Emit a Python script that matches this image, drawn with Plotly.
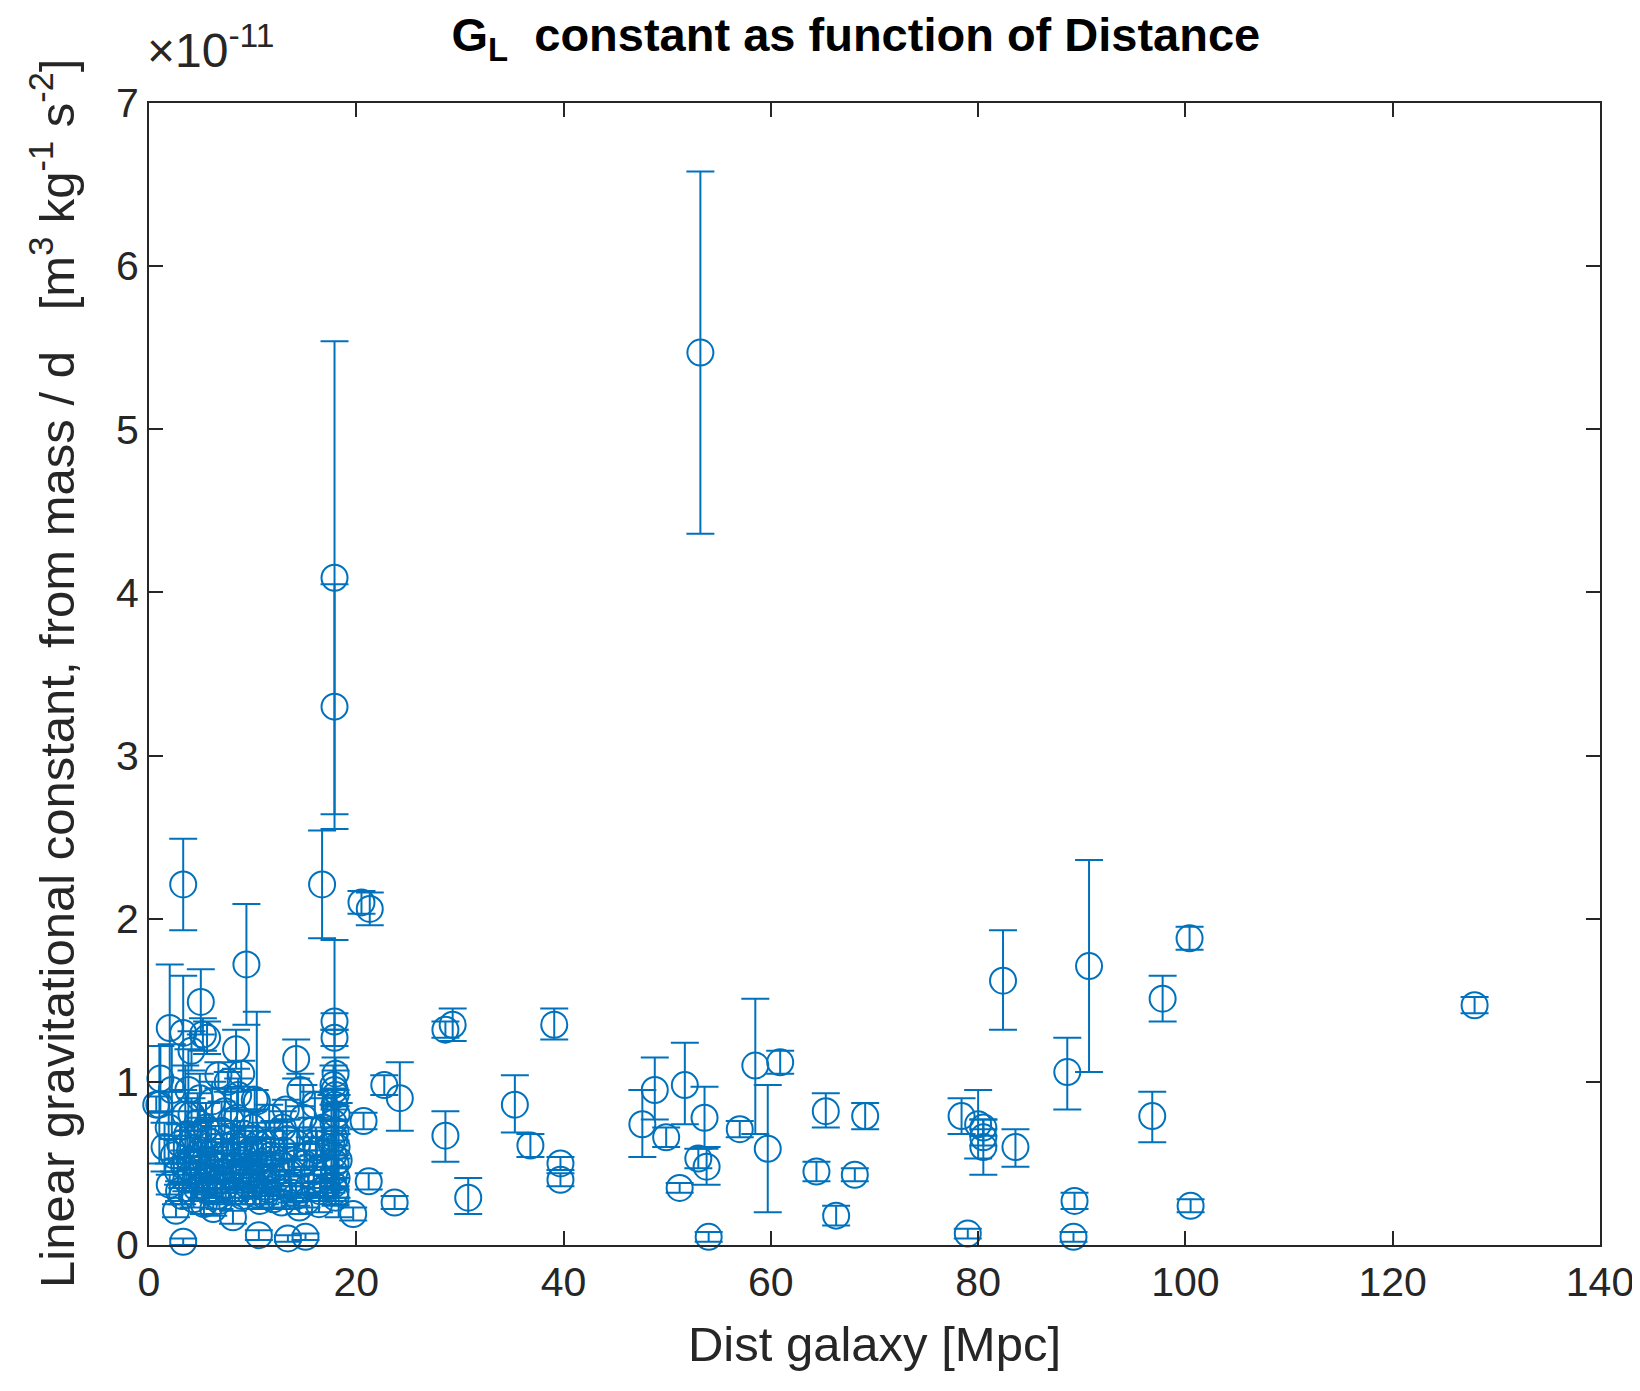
import plotly.graph_objects as go

# values in units of 1e-11 m^3 kg^-1 s^-2, distance in Mpc
# well separated galaxies
dist_a = [53.2, 17.9, 17.9, 16.7, 20.5, 21.3, 3.3, 9.4, 5.0, 2.0, 3.3, 8.4, 5.6, 14.2,
          10.4, 22.7, 24.2, 20.7, 28.6, 28.6, 29.3, 30.8, 23.7, 21.2, 19.7, 35.3, 36.8,
          39.1, 39.7, 39.7, 47.6, 48.8, 49.9, 51.7, 51.2, 53.0, 53.8, 53.6, 54.0, 57.0,
          58.5, 59.7, 60.9, 64.4, 65.3, 66.3, 68.1, 69.1, 78.4, 79.0, 80.0, 80.5, 80.5,
          80.5, 83.6, 82.4, 88.6, 90.7, 89.2, 89.3, 96.8, 97.8, 100.4, 100.5, 127.9, 17.9]
gl_a = [5.47, 4.09, 3.30, 2.21, 2.10, 2.06, 2.21, 1.72, 1.49, 1.33, 1.30, 1.20, 1.27, 1.14,
        0.88, 0.98, 0.90, 0.76, 0.67, 1.32, 1.35, 0.29, 0.26, 0.39, 0.19, 0.86, 0.61,
        1.35, 0.50, 0.40, 0.74, 0.95, 0.66, 0.98, 0.35, 0.53, 0.48, 0.78, 0.05, 0.71,
        1.10, 0.59, 1.12, 0.45, 0.82, 0.18, 0.43, 0.79, 0.79, 0.07, 0.74, 0.72, 0.66,
        0.60, 0.60, 1.62, 1.06, 1.71, 0.05, 0.27, 0.79, 1.51, 1.88, 0.24, 1.47, 0.95]
err_up_a = [1.11, 1.45, 0.75, 0.33, 0.07, 0.10, 0.28, 0.37, 0.20, 0.39, 0.35, 0.12, 0.10, 0.12,
            0.55, 0.06, 0.22, 0.05, 0.15, 0.05, 0.10, 0.12, 0.04, 0.05, 0.04, 0.18, 0.07,
            0.10, 0.04, 0.04, 0.21, 0.20, 0.06, 0.26, 0.03, 0.06, 0.12, 0.19, 0.03, 0.05,
            0.41, 0.39, 0.07, 0.06, 0.11, 0.06, 0.04, 0.08, 0.11, 0.03, 0.21, 0.05, 0.05,
            0.17, 0.11, 0.31, 0.21, 0.65, 0.03, 0.05, 0.15, 0.14, 0.07, 0.04, 0.05, 0.92]
err_dn_a = [1.11, 1.45, 0.75, 0.33, 0.07, 0.10, 0.28, 0.37, 0.20, 0.39, 0.35, 0.12, 0.10, 0.12,
            0.55, 0.06, 0.20, 0.05, 0.16, 0.05, 0.10, 0.10, 0.04, 0.05, 0.04, 0.17, 0.07,
            0.09, 0.04, 0.04, 0.20, 0.18, 0.06, 0.24, 0.03, 0.06, 0.11, 0.19, 0.03, 0.05,
            0.42, 0.39, 0.07, 0.06, 0.10, 0.06, 0.04, 0.08, 0.11, 0.03, 0.21, 0.05, 0.05,
            0.17, 0.12, 0.30, 0.23, 0.65, 0.03, 0.05, 0.16, 0.14, 0.07, 0.04, 0.05, 0.60]

# dense group of nearby galaxies (< 20 Mpc), read approximately
dist_b = [0.7, 1.0, 1.1, 1.9, 2.0, 2.6, 2.4, 2.8, 3.0, 3.2, 3.3, 3.5, 3.6, 3.8, 3.9, 4.1,
          4.1, 4.3, 4.4, 4.6, 4.8, 5.0, 5.2, 5.3, 5.5, 5.6, 5.8, 6.0, 6.1, 6.3, 6.5, 6.7,
          6.8, 7.0, 7.2, 7.3, 7.5, 7.7, 7.9, 8.1, 8.2, 8.4, 8.6, 8.8, 9.0, 9.2, 9.4, 9.6,
          9.8, 10.0, 10.2, 10.3, 10.6, 10.8, 11.0, 11.3, 11.5, 11.8, 12.0, 12.2, 12.5, 12.8,
          13.0, 13.2, 13.4, 13.5, 13.8, 14.0, 14.3, 14.6, 14.7, 15.0, 15.1, 15.2, 15.4, 15.7,
          15.9, 16.2, 16.5, 16.8, 17.0,
          17.9, 17.9, 18.0, 17.8, 18.0, 17.9, 18.1, 17.8, 18.0, 17.9, 18.1, 17.8, 18.0, 17.9,
          18.1, 17.8, 18.0, 18.0, 17.6, 18.3,
          1.5, 2.2, 4.9, 6.2, 7.6, 8.9, 10.5, 11.6, 12.9, 16.0, 16.4, 14.9,
          3.4, 4.0, 4.5, 5.1, 5.4, 5.9, 6.4, 6.9, 7.1, 7.4, 8.0, 8.3, 8.7, 9.1, 9.5, 9.9,
          10.1, 10.9, 11.2, 12.1, 12.6, 13.6, 14.2, 15.5, 16.6,
          2.9, 3.7, 4.7, 5.7, 6.6, 7.8, 8.5, 9.3, 10.7, 11.9, 13.3, 14.5, 16.1, 17.2]
gl_b = [0.86, 0.86, 1.02, 0.72, 0.37, 0.21, 0.55, 0.45, 0.62, 0.30, 0.02, 0.80, 0.40, 0.95,
        0.52, 0.80, 1.19, 0.28, 0.66, 0.35, 0.47, 0.58, 1.29, 0.25, 0.72, 0.42, 0.33, 0.63,
        0.88, 0.50, 0.38, 1.04, 0.27, 0.70, 0.45, 0.82, 0.56, 0.33, 0.76, 0.17, 0.62, 0.41,
        0.92, 0.52, 0.30, 0.68, 0.46, 0.36, 0.58, 0.72, 0.89, 0.31, 0.06, 0.48, 0.40, 0.62,
        0.34, 0.55, 0.28, 0.47, 0.38, 0.26, 0.58, 0.83, 0.04, 0.44, 0.32, 0.52, 0.62, 0.95,
        0.40, 0.50, 0.05, 0.27, 0.36, 0.70, 0.45, 0.58, 0.33, 0.72, 0.48,
        1.37, 1.27, 1.05, 0.98, 0.92, 0.86, 0.80, 0.75, 0.70, 0.65, 0.60, 0.55, 0.50, 0.45,
        0.41, 0.37, 0.33, 0.29, 0.62, 0.52,
        0.60, 0.95, 0.90, 0.22, 1.00, 1.05, 0.62, 0.78, 0.72, 0.86, 0.25, 0.78,
        0.48, 0.58, 0.42, 0.36, 0.52, 0.47, 0.60, 0.40, 0.55, 0.36, 0.48, 0.33, 0.60, 0.42,
        0.55, 0.44, 0.37, 0.56, 0.30, 0.64, 0.50, 0.36, 0.30, 0.56, 0.40,
        0.33, 0.68, 0.75, 0.64, 0.30, 0.43, 0.78, 0.62, 0.27, 0.42, 0.65, 0.23, 0.62, 0.36]
err_b = [0.05, 0.36, 0.20, 0.22, 0.06, 0.04, 0.10, 0.08, 0.12, 0.05, 0.02, 0.30, 0.07, 0.25,
         0.15, 0.10, 0.12, 0.05, 0.09, 0.08, 0.12, 0.20, 0.10, 0.06, 0.15, 0.10, 0.06, 0.14,
         0.12, 0.10, 0.09, 0.08, 0.05, 0.18, 0.11, 0.14, 0.12, 0.06, 0.20, 0.04, 0.14, 0.09,
         0.10, 0.11, 0.05, 0.15, 0.10, 0.07, 0.12, 0.10, 0.06, 0.06, 0.03, 0.09, 0.08, 0.13,
         0.06, 0.10, 0.05, 0.09, 0.07, 0.04, 0.12, 0.06, 0.02, 0.08, 0.06, 0.10, 0.10, 0.10,
         0.08, 0.12, 0.02, 0.04, 0.07, 0.08, 0.10, 0.12, 0.06, 0.18, 0.10,
         0.05, 0.05, 0.10, 0.12, 0.15, 0.10, 0.12, 0.20, 0.15, 0.18, 0.12, 0.15, 0.14, 0.16,
         0.12, 0.10, 0.08, 0.05, 0.30, 0.35,
         0.15, 0.28, 0.15, 0.04, 0.06, 0.08, 0.10, 0.08, 0.10, 0.08, 0.05, 0.20,
         0.10, 0.12, 0.09, 0.07, 0.11, 0.09, 0.13, 0.08, 0.10, 0.07, 0.10, 0.06, 0.12, 0.08,
         0.11, 0.09, 0.07, 0.10, 0.05, 0.12, 0.10, 0.07, 0.06, 0.10, 0.08,
         0.06, 0.14, 0.18, 0.12, 0.05, 0.09, 0.16, 0.11, 0.05, 0.08, 0.12, 0.04, 0.10, 0.07]

blue = "#0072BD"
ink = "#262626"
font_family = "Liberation Sans, Arial"

fig = go.Figure()

fig.add_trace(go.Scatter(
    x=dist_b, y=gl_b, mode="markers",
    marker=dict(symbol="circle-open", size=26, color=blue, line=dict(width=2, color=blue)),
    error_y=dict(type="data", array=err_b, color=blue, thickness=2, width=14),
    cliponaxis=False, showlegend=False,
))
fig.add_trace(go.Scatter(
    x=dist_a, y=gl_a, mode="markers",
    marker=dict(symbol="circle-open", size=26, color=blue, line=dict(width=2, color=blue)),
    error_y=dict(type="data", array=err_up_a, arrayminus=err_dn_a, symmetric=False,
                 color=blue, thickness=2, width=14),
    cliponaxis=False, showlegend=False,
))

axis_common = dict(
    showline=True, linecolor=ink, linewidth=2, mirror="ticks",
    ticks="inside", ticklen=14, tickwidth=2, tickcolor=ink,
    showgrid=False, zeroline=False,
    tickfont=dict(family=font_family, size=41, color=ink),
)

fig.update_layout(
    width=1640, height=1391,
    margin=dict(l=141, r=48, t=95, b=154),
    paper_bgcolor="white", plot_bgcolor="white",
    font=dict(family=font_family, color=ink),
    title=dict(
        text="<b>G<sub>L</sub>  constant as function of Distance</b>",
        x=0.517, xanchor="center", y=0.981, yanchor="middle",
        font=dict(size=47, color="black"),
    ),
    xaxis=dict(range=[0, 140], dtick=20,
               title=dict(text="Dist galaxy [Mpc]", font=dict(size=49, color=ink), standoff=22),
               **axis_common),
    yaxis=dict(range=[0, 7], dtick=1, **axis_common),
    annotations=[
        dict(
            text="\u00d710<sup>-11</sup>", xref="paper", yref="paper",
            x=0, y=1.0, xanchor="left", yanchor="bottom", yshift=24, xshift=-4,
            showarrow=False,
            font=dict(family=font_family, size=48, color=ink),
        ),
        dict(
            text="Linear gravitational constant, from mass / d&nbsp;&nbsp;&nbsp;"
                 "[m<sup>3</sup> kg<sup>-1</sup> s<sup>-2</sup>]",
            xref="paper", yref="paper", x=0, y=0.5, xshift=-96,
            xanchor="center", yanchor="middle", textangle=-90, showarrow=False,
            font=dict(family=font_family, size=49, color=ink),
        ),
    ],
)

fig.write_html("out.html")
